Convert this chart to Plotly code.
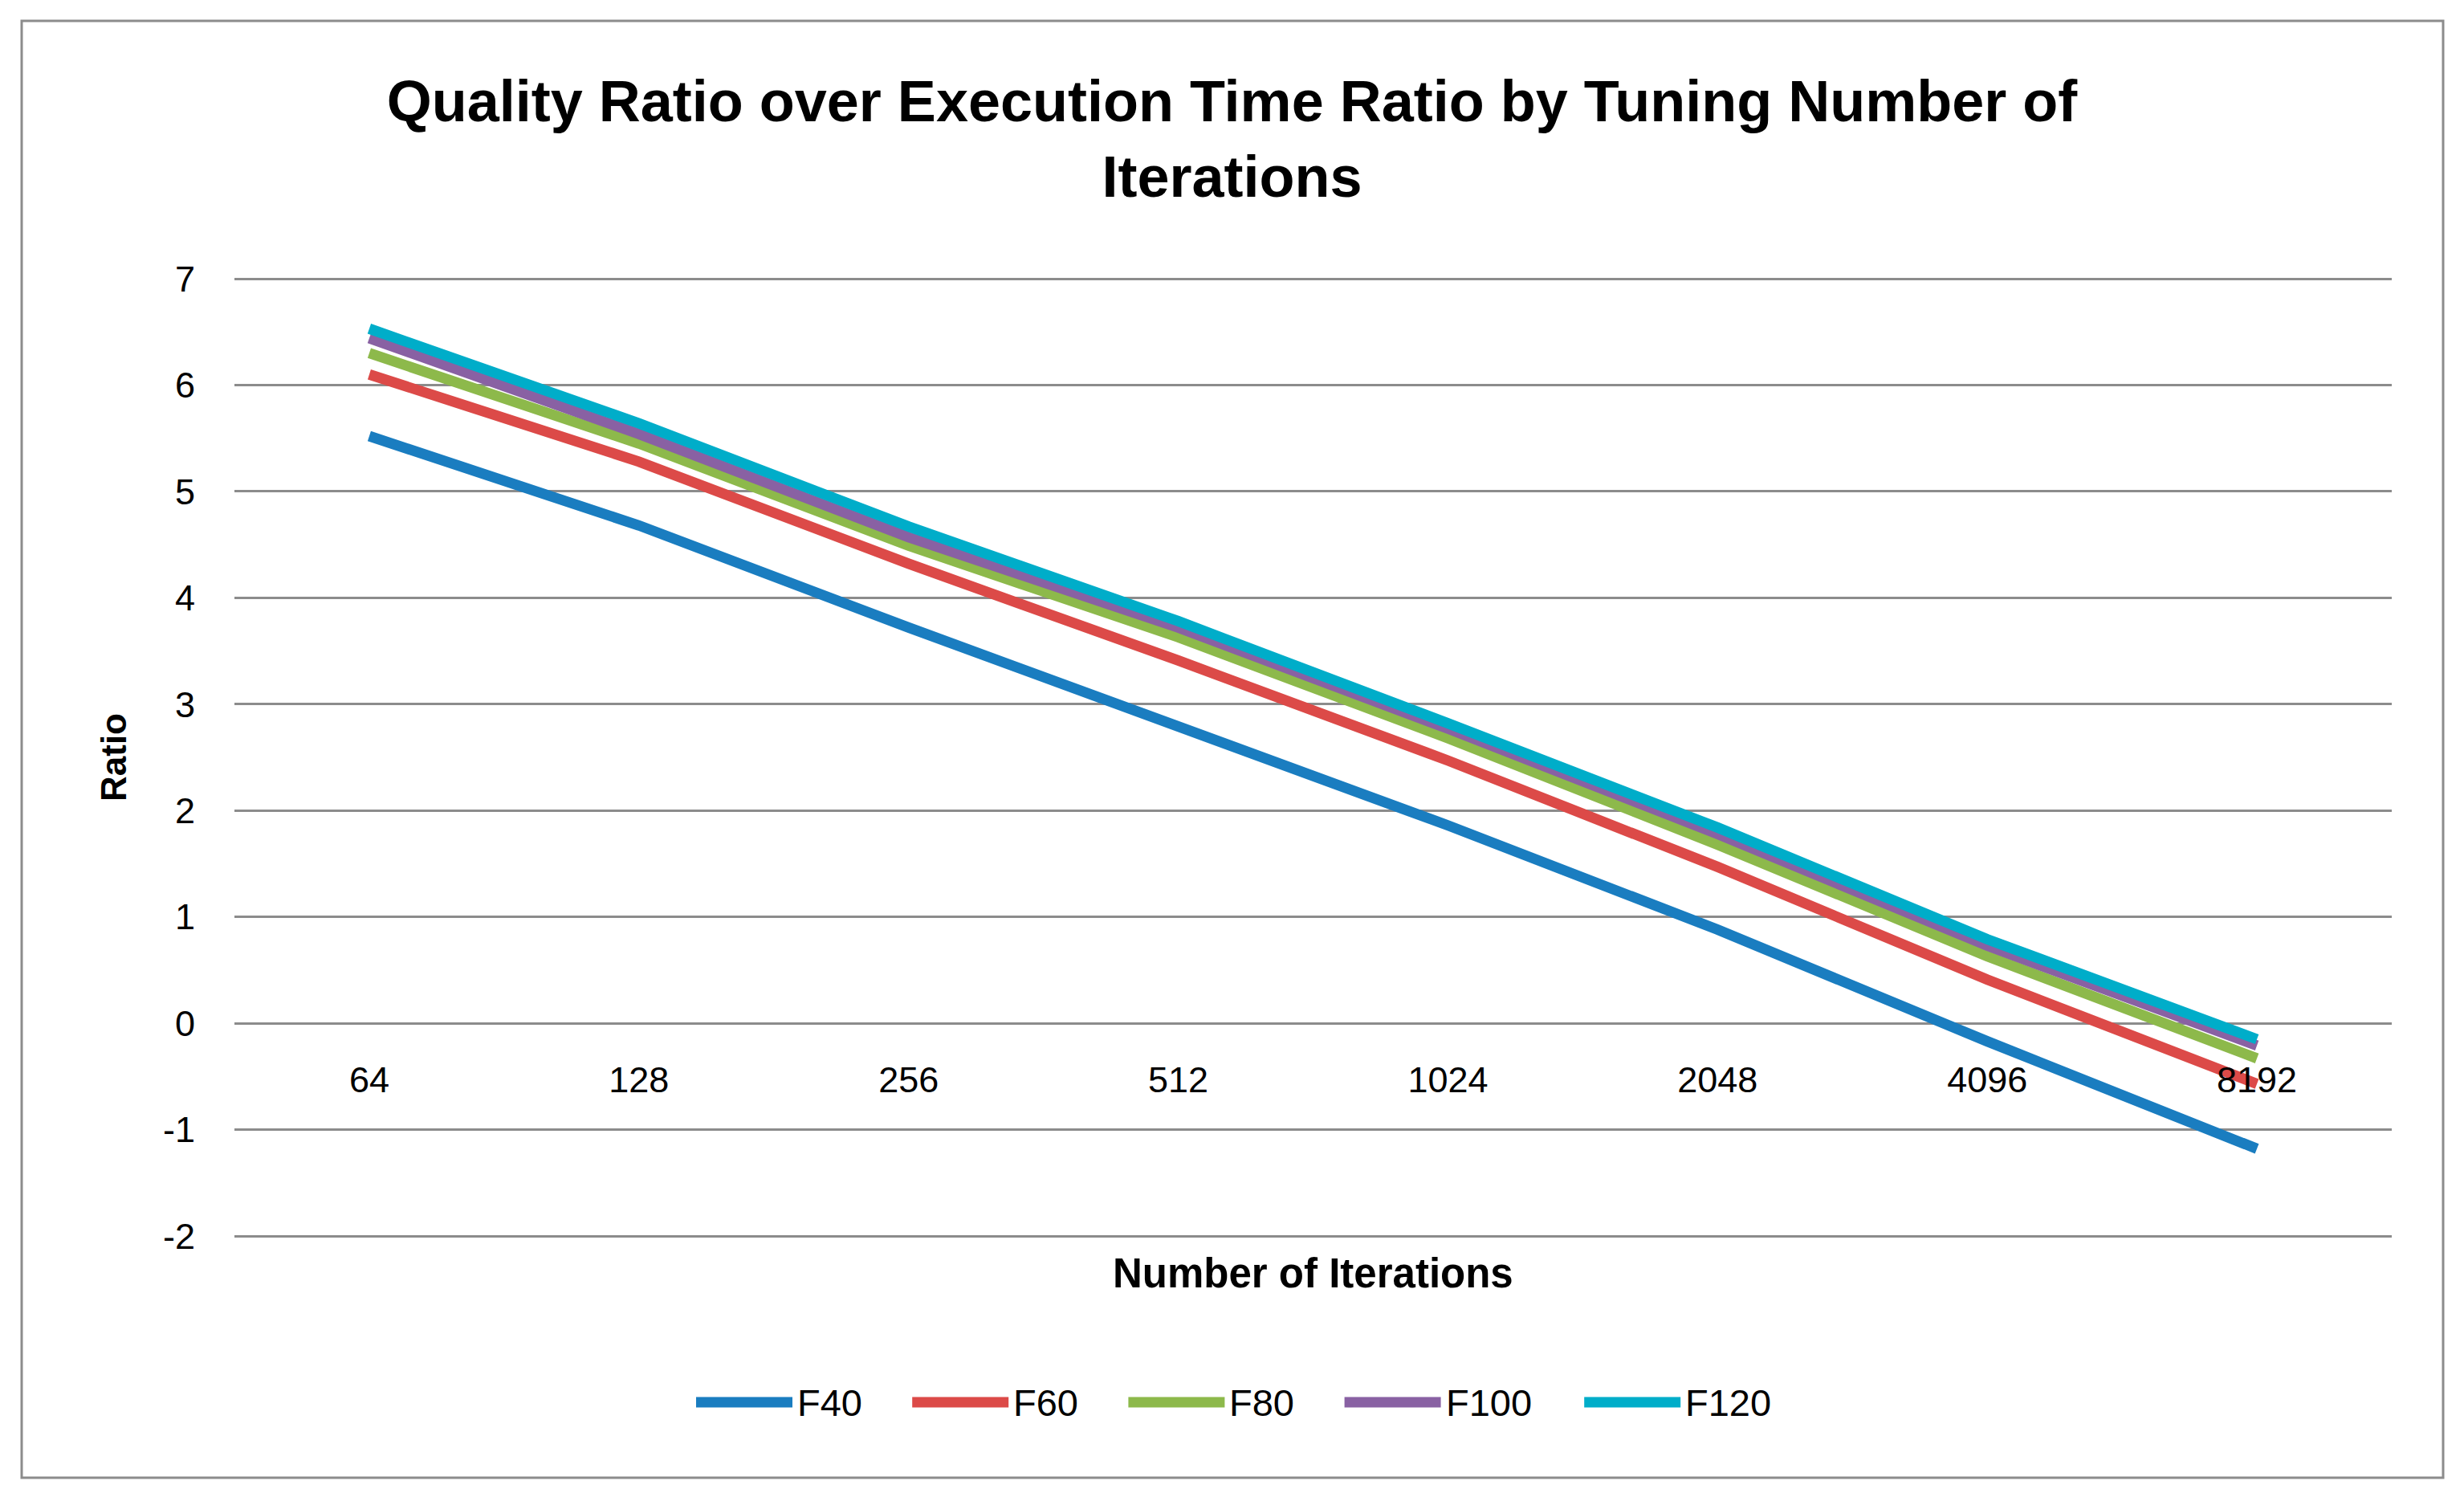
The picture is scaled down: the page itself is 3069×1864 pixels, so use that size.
import plotly.graph_objects as go

# ---------------- data ----------------
iterations = ["64", "128", "256", "512", "1024", "2048", "4096", "8192"]
series_names = ["F40", "F60", "F80", "F100", "F120"]
f40 = [5.52, 4.68, 3.72, 2.80, 1.86, 0.88, -0.17, -1.18]
f60 = [6.10, 5.28, 4.32, 3.41, 2.47, 1.47, 0.41, -0.57]
f80 = [6.30, 5.45, 4.49, 3.63, 2.68, 1.68, 0.63, -0.33]
f100 = [6.44, 5.54, 4.57, 3.72, 2.77, 1.78, 0.73, -0.21]
f120 = [6.53, 5.64, 4.67, 3.78, 2.82, 1.84, 0.79, -0.15]
y_ticks = [-2, -1, 0, 1, 2, 3, 4, 5, 6, 7]
y_tick_labels = ["-2", "-1", "0", "1", "2", "3", "4", "5", "6", "7"]

title_text = "Quality Ratio over Execution Time Ratio by Tuning Number of<br>Iterations"
x_title = "Number of Iterations"
y_title = "Ratio"

# ---------------- style ----------------
colors = ["#1A7DC0", "#DC4A48", "#8DB94B", "#8961A3", "#00ADC9"]
W, H = 3069, 1864
PAD_PX = 5
ML, MR, MT, MB = 292, 90, 347 - PAD_PX, 325 - PAD_PX
PW, PH = W - ML - MR, H - MT - MB
GRID = "#8C8C8C"
BASE = "Liberation Sans, Arial, sans-serif"
TICK_FONT = dict(family=BASE, size=45, color="#000000")
LINE_W = 13


def px_x(px):
    return (px - ML) / PW


def px_y(py):
    return (H - MB - py) / PH


values = [f40, f60, f80, f100, f120]

fig = go.Figure()
for name, vals, col in zip(series_names, values, colors):
    fig.add_trace(go.Scatter(
        x=iterations, y=vals, mode="lines", name=name,
        line=dict(color=col, width=LINE_W), showlegend=False,
    ))

ymin, ymax = min(y_ticks), max(y_ticks)
unit_px = (PH - 2 * PAD_PX) / (ymax - ymin)
pad = PAD_PX / unit_px
r0, r1 = ymin - pad, ymax + pad

fig.update_layout(
    width=W, height=H,
    margin=dict(l=ML, r=MR, t=MT, b=MB, autoexpand=False),
    paper_bgcolor="white", plot_bgcolor="white",
    title=dict(text=title_text, x=0.5, xref="container", xanchor="center",
               y=1 - 151 / H, yref="container", yanchor="middle",
               font=dict(family=BASE, size=72, color="#000000", weight="bold")),
    xaxis=dict(type="category", range=[-0.5, len(iterations) - 0.5],
               showgrid=False, zeroline=False, showline=False, ticks="",
               anchor="free", position=(0 - r0) / (r1 - r0),
               tickfont=TICK_FONT, ticklabelstandoff=40),
    yaxis=dict(range=[r0, r1], tickvals=y_ticks, ticktext=y_tick_labels,
               showgrid=True, gridcolor=GRID, gridwidth=3.3, zeroline=False,
               showline=False, ticks="", tickfont=TICK_FONT, ticklabelstandoff=48),
    hovermode=False,
)

# axis titles
fig.add_annotation(text=x_title, xref="paper", yref="paper", x=0.5, y=px_y(1585),
                   xanchor="center", yanchor="middle", showarrow=False,
                   font=dict(family=BASE, size=51, color="#000000", weight="bold"))
fig.add_annotation(text=y_title, xref="paper", yref="paper", x=px_x(141), y=0.5,
                   xanchor="center", yanchor="middle", showarrow=False, textangle=-90,
                   font=dict(family=BASE, size=44, color="#000000", weight="bold"))

# outer chart border
fig.add_shape(type="rect", xref="paper", yref="paper",
              x0=px_x(27), x1=px_x(3043), y0=px_y(1840), y1=px_y(26),
              line=dict(color=GRID, width=3), fillcolor="rgba(0,0,0,0)", layer="below")

# legend (line sample + label), laid out left to right
leg_y = px_y(1746)
x = 867
for name, col in zip(series_names, colors):
    fig.add_shape(type="line", xref="paper", yref="paper",
                  x0=px_x(x), x1=px_x(x + 120), y0=leg_y, y1=leg_y,
                  line=dict(color=col, width=LINE_W))
    fig.add_annotation(text=name, xref="paper", yref="paper", x=px_x(x + 124), y=leg_y,
                       xanchor="left", yanchor="middle", showarrow=False,
                       font=dict(family=BASE, size=47, color="#000000"))
    x += 126 + 29.4 * len(name) + 55

fig.write_html("out.html", config={"displayModeBar": False},
               post_script="document.body.style.margin='0';document.body.style.overflow='hidden';")
